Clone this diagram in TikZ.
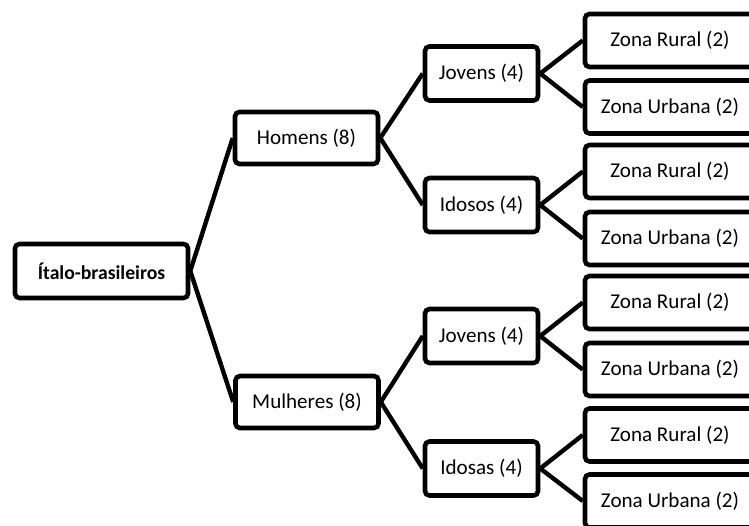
\documentclass[tikz,border=0pt]{standalone}
\usepackage{fontspec}
\setmainfont{Carlito}
\tikzset{
    box/.style = {draw, line width = 2.6pt, rounded corners = 2.5pt, fill = white, font = \fontsize{12}{14}\selectfont, inner sep = 2pt},
    rootbox/.style = {box, minimum width = 3.46cm, minimum height = 1.08cm, font = \fontsize{11.2}{13}\selectfont\bfseries},
    sexbox/.style = {box, minimum width = 2.86cm, minimum height = 1.04cm},
    agebox/.style = {box, minimum width = 2.26cm, minimum height = 1.08cm},
    zonebox/.style = {box, minimum width = 3.40cm, minimum height = 1.06cm},
    link/.style = {line width = 2.5pt}
}
\begin{document}
\begin{tikzpicture}[x = 0.02cm, y = -0.02cm]
    \useasboundingbox (0,0) rectangle (749,526);
    \clip (0,0) rectangle (749,526);

    \node [rootbox] (ib) at (101.5,271) {Ítalo-brasileiros};

    \node [sexbox] (hom) at (306.5,138) {Homens (8)};
    \node [sexbox] (mul) at (307,402) {Mulheres (8)};

    \node [agebox] (hj) at (481.5,73.5) {Jovens (4)};
    \node [agebox] (hi) at (481.5,205) {Idosos (4)};
    \node [agebox] (mj) at (481.5,336) {Jovens (4)};
    \node [agebox] (mi) at (481.5,468.5) {Idosas (4)};

    \node [zonebox] (hjr) at (670,40.5) {Zona Rural (2)};
    \node [zonebox] (hju) at (670,107) {Zona Urbana (2)};
    \node [zonebox] (hir) at (670,171.5) {Zona Rural (2)};
    \node [zonebox] (hiu) at (670,238.5) {Zona Urbana (2)};
    \node [zonebox] (mjr) at (670,302.5) {Zona Rural (2)};
    \node [zonebox] (mju) at (670,369.5) {Zona Urbana (2)};
    \node [zonebox] (mir) at (670,435) {Zona Rural (2)};
    \node [zonebox] (miu) at (670,501) {Zona Urbana (2)};

    \draw [link] (ib.east) to (hom.west);
    \draw [link] (ib.east) to (mul.west);
    \draw [link] (hom.east) to (hj.west);
    \draw [link] (hom.east) to (hi.west);
    \draw [link] (mul.east) to (mj.west);
    \draw [link] (mul.east) to (mi.west);
    \draw [link] (hj.east) to (hjr.west);
    \draw [link] (hj.east) to (hju.west);
    \draw [link] (hi.east) to (hir.west);
    \draw [link] (hi.east) to (hiu.west);
    \draw [link] (mj.east) to (mjr.west);
    \draw [link] (mj.east) to (mju.west);
    \draw [link] (mi.east) to (mir.west);
    \draw [link] (mi.east) to (miu.west);
\end{tikzpicture}
\end{document}
